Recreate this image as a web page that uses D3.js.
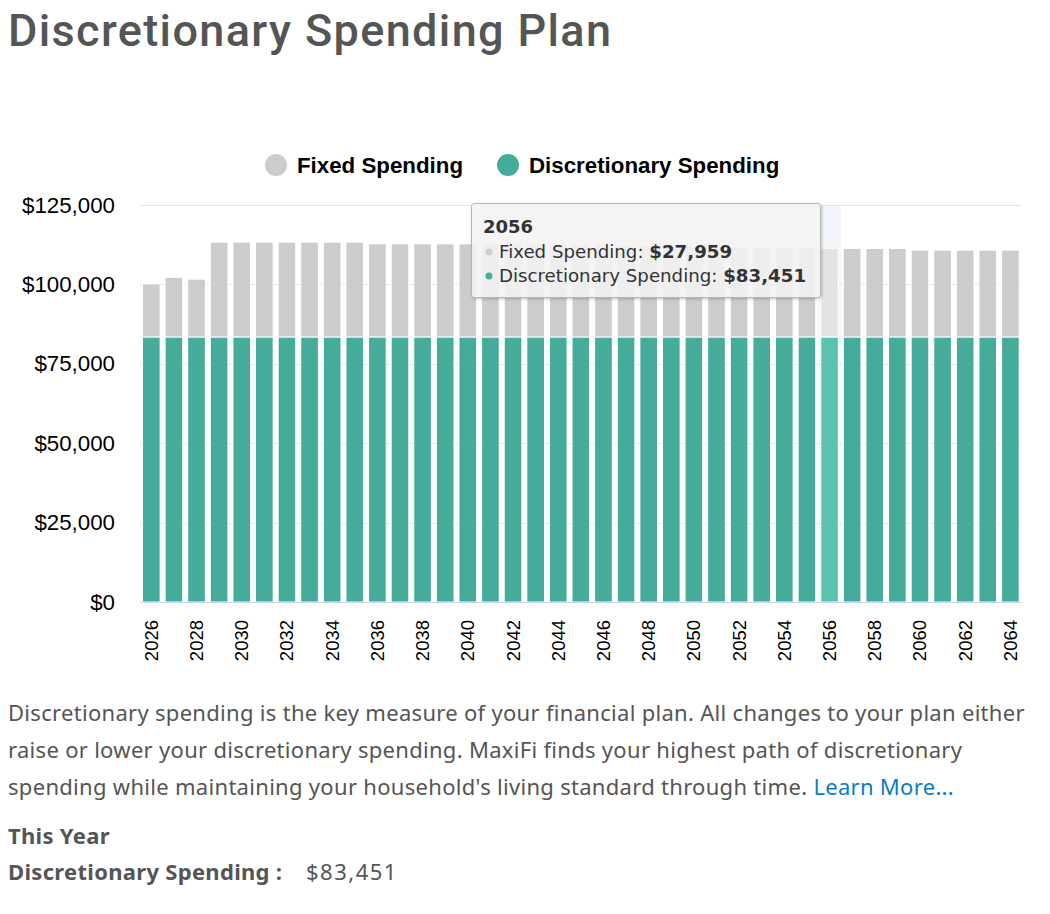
<!DOCTYPE html>
<html><head><meta charset="utf-8">
<script src="https://cdn.jsdelivr.net/npm/d3@7/dist/d3.min.js"></script>
<style>body{margin:0;background:#fff;} svg{display:block;}</style>
</head><body>
<svg id="chart" width="1050" height="914"></svg>
<script>
// ---------- DATA ----------
const years = ["2026","2027","2028","2029","2030","2031","2032","2033","2034","2035",
  "2036","2037","2038","2039","2040","2041","2042","2043","2044","2045",
  "2046","2047","2048","2049","2050","2051","2052","2053","2054","2055",
  "2056","2057","2058","2059","2060","2061","2062","2063","2064"];
const discretionary = [83451,83451,83451,83451,83451,83451,83451,83451,83451,83451,
  83451,83451,83451,83451,83451,83451,83451,83451,83451,83451,
  83451,83451,83451,83451,83451,83451,83451,83451,83451,83451,
  83451,83451,83451,83451,83451,83451,83451,83451,83451];
const fixed = [16700,18800,18200,29850,29850,29850,29850,29850,29850,29850,
  29300,29300,29300,29300,29300,29300,29300,29200,29100,29000,
  28900,28800,28700,28600,28500,28400,28300,28300,28300,28300,
  27959,27850,27850,27850,27330,27330,27330,27330,27330];
const seriesNames = ["Fixed Spending","Discretionary Spending"];
const yTicks = [0,25000,50000,75000,100000,125000];
const xTickLabels = ["2026","2028","2030","2032","2034","2036","2038","2040","2042","2044",
  "2046","2048","2050","2052","2054","2056","2058","2060","2062","2064"];
const hoverYear = "2056";
const titleText = "Discretionary Spending Plan";
const paragraphLines = [
  "Discretionary spending is the key measure of your financial plan. All changes to your plan either",
  "raise or lower your discretionary spending. MaxiFi finds your highest path of discretionary",
  "spending while maintaining your household's living standard through time. "
];
const linkText = "Learn More...";

// ---------- STYLE ----------
const COL_FIXED = "#cccccc", COL_DISC = "#45ab9a";
const COL_FIXED_H = "#e3e3e3", COL_DISC_H = "#5ec2b0";
const AX_FONT = "'Liberation Sans', Arial, Helvetica, sans-serif";
const BODY_FONT = "'Noto Sans', 'Open Sans', sans-serif";

const svg = d3.select("#chart");
const money = d => "$" + d3.format(",")(d);

// Title
const title = svg.append("text").attr("x", 8).attr("y", 46)
  .style("font-family", "Roboto, 'Noto Sans', sans-serif").style("font-size", "45px")
  .style("font-weight", "500").attr("fill", "#555")
  .text(titleText);
{
  const w = title.node().getComputedTextLength();
  const target = 603;
  title.style("letter-spacing", ((target - w) / (titleText.length - 1)).toFixed(2) + "px");
}

// Scales
const x = d3.scaleBand().domain(years).range([140, 1021.7]).paddingInner(0.22).paddingOuter(0.11);
const y = d3.scaleLinear().domain([0, 125000]).range([602, 205]);

// Gridlines
svg.append("g").selectAll("line").data(yTicks).join("line")
  .attr("x1", 140).attr("x2", 1021.7)
  .attr("y1", d => Math.round(y(d)) + 0.5).attr("y2", d => Math.round(y(d)) + 0.5)
  .attr("stroke", "#e6e6e6").attr("stroke-width", 1);

// Hover crosshair band
const stepPad = x.step() * x.paddingInner() / 2;
svg.append("rect")
  .attr("x", x(hoverYear) - stepPad).attr("width", x.step())
  .attr("y", y(125000)).attr("height", y(0) - y(125000))
  .attr("fill", "rgba(204,214,235,0.25)");

// Stacked bars
const rows = years.map((yr, i) => ({year: yr, disc: discretionary[i], fixed: fixed[i]}));
const stack = d3.stack().keys(["disc", "fixed"])(rows);
const colors = {disc: [COL_DISC, COL_DISC_H], fixed: [COL_FIXED, COL_FIXED_H]};
svg.append("g").selectAll("g").data(stack).join("g")
  .each(function(layer) {
    d3.select(this).selectAll("rect").data(layer).join("rect")
      .attr("x", d => x(d.data.year))
      .attr("width", x.bandwidth())
      .attr("y", d => y(d[1]))
      .attr("height", d => y(d[0]) - y(d[1]))
      .attr("fill", d => colors[layer.key][d.data.year === hoverYear ? 1 : 0])
      .attr("stroke", "#ffffff").attr("stroke-width", 1);
  });

// Y axis
const yAxis = svg.append("g").attr("transform", "translate(140,0)")
  .call(d3.axisLeft(y).tickValues(yTicks).tickFormat(money).tickSize(0).tickPadding(25));
yAxis.select(".domain").remove();
yAxis.selectAll("text").style("font-family", AX_FONT).style("font-size", "22.3px").attr("fill", "#000");

// X axis
const xAxis = svg.append("g").attr("transform", "translate(0,602)")
  .call(d3.axisBottom(x).tickValues(xTickLabels).tickSize(0));
xAxis.select(".domain").attr("stroke", "#ccd6eb").attr("d", "M140,0.5H1021.7");
xAxis.selectAll("text")
  .attr("transform", "rotate(-90)").attr("x", -18).attr("y", 0).attr("dy", "0.35em")
  .style("text-anchor", "end")
  .style("font-family", AX_FONT).style("font-size", "18.5px").attr("fill", "#000");

// Legend
const legend = svg.append("g");
const legendItems = [
  {name: seriesNames[0], color: COL_FIXED, cx: 276, tx: 297},
  {name: seriesNames[1], color: COL_DISC, cx: 508, tx: 529}
];
legend.selectAll("circle").data(legendItems).join("circle")
  .attr("cx", d => d.cx).attr("cy", 165).attr("r", 11).attr("fill", d => d.color);
legend.selectAll("text").data(legendItems).join("text")
  .attr("x", d => d.tx).attr("y", 173)
  .style("font-family", AX_FONT).style("font-size", "22.3px").style("font-weight", "bold")
  .attr("fill", "#000").text(d => d.name);

// Tooltip
const hi = years.indexOf(hoverYear);
const tip = svg.append("g");
const defs = svg.append("defs");
const f = defs.append("filter").attr("id", "sh").attr("x", "-10%").attr("y", "-10%").attr("width", "130%").attr("height", "140%");
f.append("feDropShadow").attr("dx", 1).attr("dy", 1).attr("stdDeviation", 1.5).attr("flood-color", "#000").attr("flood-opacity", 0.25);
tip.append("rect").attr("x", 471.5).attr("y", 203.5).attr("width", 349).attr("height", 94).attr("rx", 3)
  .attr("fill", "rgba(247,247,247,0.85)").attr("stroke", "#b5b5b5").attr("stroke-width", 1)
  .attr("filter", "url(#sh)");
const TIP_FONT = "'DejaVu Sans', Verdana, sans-serif";
tip.append("text").attr("x", 483).attr("y", 233)
  .style("font-family", TIP_FONT).style("font-size", "18px").style("font-weight", "bold").attr("fill", "#333")
  .text(hoverYear);
const tipItems = [
  {name: seriesNames[0], val: fixed[hi], color: COL_FIXED, y: 258},
  {name: seriesNames[1], val: discretionary[hi], color: COL_DISC, y: 282}
];
tipItems.forEach(it => {
  tip.append("circle").attr("cx", 489).attr("cy", it.y - 6).attr("r", 3.5).attr("fill", it.color);
  const t = tip.append("text").attr("x", 499).attr("y", it.y)
    .style("font-family", TIP_FONT).style("font-size", "18.2px").attr("fill", "#333");
  t.append("tspan").text(it.name + ": ");
  t.append("tspan").style("font-weight", "bold").text(money(it.val));
});

// Paragraph
const para = svg.append("g").style("font-family", BODY_FONT).style("font-size", "22px")
  .style("letter-spacing", "0.3px").attr("fill", "#555");
const baselines = [721, 758, 795];
paragraphLines.forEach((ln, i) => {
  const t = para.append("text").attr("x", 8).attr("y", baselines[i]).text(ln);
  if (i === paragraphLines.length - 1) {
    t.append("tspan").attr("fill", "#0a7cc4").text(linkText);
  }
});
para.append("text").attr("x", 8).attr("y", 844).style("font-weight", "bold").text("This Year");
para.append("text").attr("x", 8).attr("y", 880).style("font-weight", "bold").text(seriesNames[1] + " :");
para.append("text").attr("x", 306).attr("y", 880).style("letter-spacing", "1.5px").text(money(discretionary[0]));
</script>
</body></html>
